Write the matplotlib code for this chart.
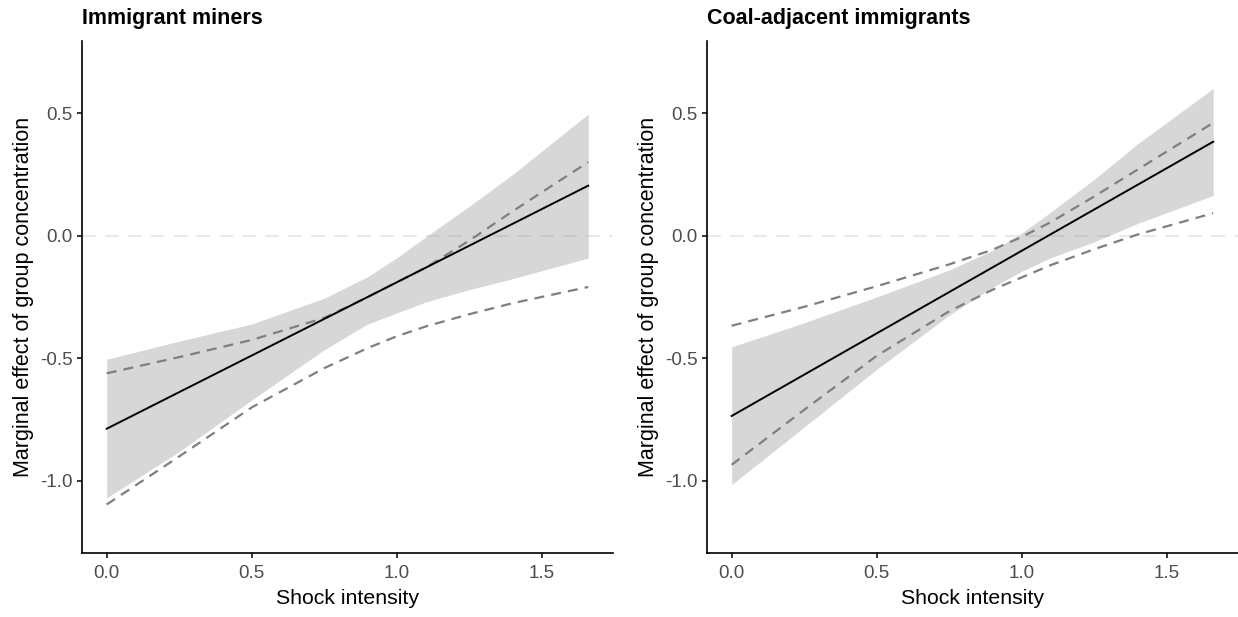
import matplotlib
matplotlib.use("Agg")
import matplotlib.pyplot as plt

plt.rcParams["font.family"] = ["Liberation Sans", "DejaVu Sans"]

# values
x_grid = [0, 0.25, 0.5, 0.75, 0.9, 1.0, 1.1, 1.25, 1.4, 1.66]
fit_x = [0, 1.66]

miners_band_hi = [-0.504, -0.43, -0.36, -0.255, -0.167, -0.09, -0.005, 0.12, 0.25, 0.496]
miners_band_lo = [-1.069, -0.88, -0.67, -0.465, -0.36, -0.315, -0.27, -0.22, -0.175, -0.091]
miners_dash_hi = [-0.561, -0.495, -0.425, -0.335, -0.25, -0.19, -0.13, -0.02, 0.10, 0.30]
miners_dash_lo = [-1.096, -0.90, -0.70, -0.54, -0.458, -0.41, -0.37, -0.32, -0.275, -0.209]
miners_fit = [-0.787, 0.204]

adjacent_band_hi = [-0.453, -0.355, -0.25, -0.14, -0.06, 0.01, 0.096, 0.23, 0.375, 0.60]
adjacent_band_lo = [-1.015, -0.78, -0.545, -0.324, -0.21, -0.145, -0.09, -0.025, 0.05, 0.164]
adjacent_dash_hi = [-0.367, -0.29, -0.206, -0.117, -0.057, -0.005, 0.055, 0.16, 0.27, 0.46]
adjacent_dash_lo = [-0.934, -0.71, -0.49, -0.308, -0.22, -0.17, -0.12, -0.055, 0.005, 0.092]
adjacent_fit = [-0.735, 0.383]

titles = ["Immigrant miners", "Coal-adjacent immigrants"]
x_ticks = [0.0, 0.5, 1.0, 1.5]
x_tick_labels = ["0.0", "0.5", "1.0", "1.5"]
y_ticks = [-1.0, -0.5, 0.0, 0.5]
y_tick_labels = ["-1.0", "-0.5", "0.0", "0.5"]

panels = [
    (miners_band_lo, miners_band_hi, miners_dash_lo, miners_dash_hi, miners_fit),
    (adjacent_band_lo, adjacent_band_hi, adjacent_dash_lo, adjacent_dash_hi, adjacent_fit),
]

fig = plt.figure(figsize=(12.38, 6.17), dpi=100)
lefts = [0.0665, 0.5713]

for i, (blo, bhi, dlo, dhi, fit) in enumerate(panels):
    ax = fig.add_axes([lefts[i], 0.1032, 0.4283, 0.8308])
    ax.fill_between(x_grid, blo, bhi, color="#D7D7D7", lw=0, zorder=1)
    ax.axhline(0, color="gray", alpha=0.22, lw=1.1, dashes=[9, 6], zorder=2)
    ax.plot(x_grid, dhi, color="#7F7F7F", lw=1.6, dashes=[4.5, 3.2], zorder=3)
    ax.plot(x_grid, dlo, color="#7F7F7F", lw=1.6, dashes=[4.5, 3.2], zorder=3)
    ax.plot(fit_x, fit, color="black", lw=1.4, zorder=4)

    ax.set_xlim(-0.084, 1.744)
    ax.set_ylim(-1.295, 0.795)
    ax.set_xticks(x_ticks)
    ax.set_xticklabels(x_tick_labels)
    ax.set_yticks(y_ticks)
    ax.set_yticklabels(y_tick_labels)
    ax.tick_params(length=3.6, width=1.1, color="black", labelcolor="#4D4D4D",
                   labelsize=13.5, pad=3.5)
    ax.tick_params(axis="x", pad=5)
    for s in ["top", "right"]:
        ax.spines[s].set_visible(False)
    for s in ["left", "bottom"]:
        ax.spines[s].set_linewidth(1.2)

    ax.set_xlabel("Shock intensity", fontsize=15.3, labelpad=5)
    ax.set_ylabel("Marginal effect of group concentration", fontsize=15.5, labelpad=4)
    ax.set_title(titles[i], loc="left", fontsize=15.5, fontweight="bold", pad=12)

fig.savefig("out.png", dpi=100)
